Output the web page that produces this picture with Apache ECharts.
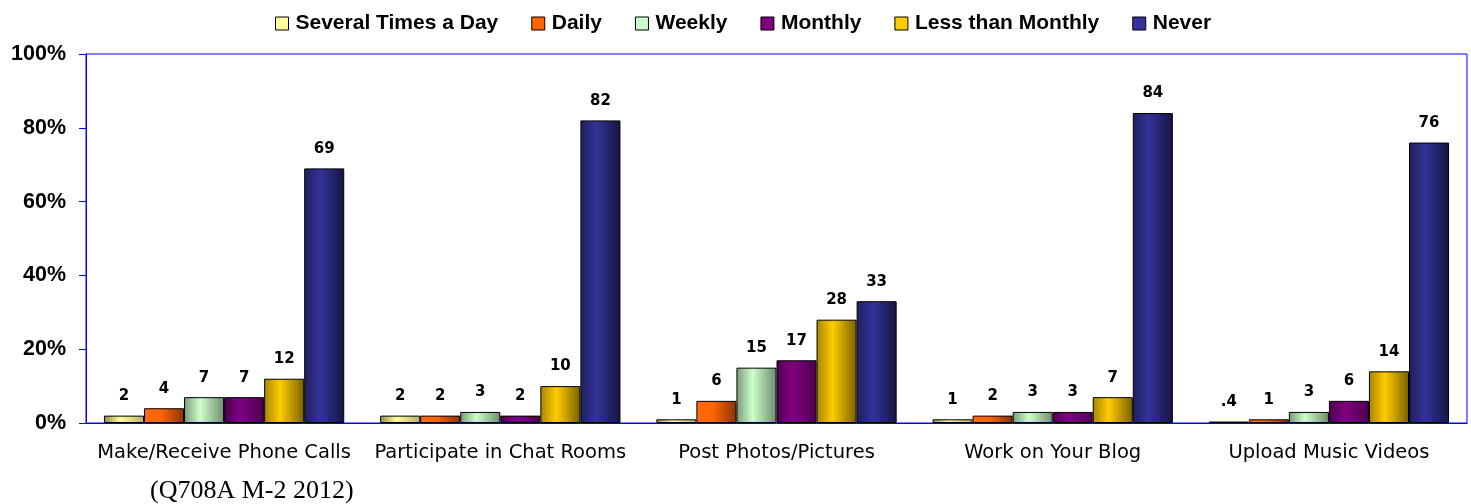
<!DOCTYPE html>
<html><head><meta charset="utf-8">
<script src="https://cdn.jsdelivr.net/npm/echarts@6/dist/echarts.min.js"></script>
<style>html,body{margin:0;padding:0;background:#fff}#c{width:1471px;height:504px}</style>
</head><body><div id="c"></div>
<script>
var categories = ['Make/Receive Phone Calls','Participate in Chat Rooms','Post Photos/Pictures','Work on Your Blog','Upload Music Videos'];
var seriesNames = ['Several Times a Day','Daily','Weekly','Monthly','Less than Monthly','Never'];
var severalTimes = [2, 2, 1, 1, 0.4];
var daily = [4, 2, 6, 2, 1];
var weekly = [7, 3, 15, 3, 3];
var monthly = [7, 2, 17, 3, 6];
var lessThanMonthly = [12, 10, 28, 7, 14];
var never = [69, 82, 33, 84, 76];
var yTicks = [0, 20, 40, 60, 80, 100];
var footnote = '(Q708A M-2 2012)';

var seriesData = [severalTimes, daily, weekly, monthly, lessThanMonthly, never];
var colors = [
  ['#8c8c50','#ffff99','#b3b36b'],
  ['#ff6a10','#ff6600','#8c3300'],
  ['#7a997a','#ccffcc','#6f8c6f'],
  ['#4d004d','#800080','#4d004d'],
  ['#a68500','#ffcc00','#7a6000'],
  ['#1f1f5c','#333399','#151540']
];
var baseColors = ['#ffff99','#ff6600','#ccffcc','#800080','#ffcc00','#333399'];

function grad(c){
  return new echarts.graphic.LinearGradient(0,0,1,0,[
    {offset:0,color:c[0]},{offset:0.4,color:c[1]},{offset:1,color:c[2]}
  ]);
}

var chart = echarts.init(document.getElementById('c'), null, {renderer:'canvas'});
var series = seriesNames.map(function(n,i){
  return {
    name:n, type:'bar', data:seriesData[i],
    barGap:'0%', barCategoryGap:'13%',
    itemStyle:{color:grad(colors[i]), borderColor:'#000', borderWidth:1},
    label:{show:true, position:'top', distance:12,
      fontFamily:'DejaVu Sans', fontWeight:'bold', fontSize:15, color:'#000',
      formatter:function(p){ return p.value < 1 ? String(p.value).replace(/^0/,'') : String(p.value); }}
  };
});
chart.setOption({
  animation:false,
  color: baseColors,
  legend:{
    top:8, left:270, itemWidth:13, itemHeight:13, itemGap:33,
    icon:'rect',
    textStyle:{fontFamily:'Liberation Sans', fontWeight:'bold', fontSize:21, color:'#000', padding:[0,0,0,2]},
    data: seriesNames.map(function(n,i){return {name:n, itemStyle:{color:baseColors[i], borderColor:'#000', borderWidth:1}};})
  },
  grid:{left:86, right:4, top:54, bottom:81, show:true, borderColor:'#0000ff', borderWidth:1},
  xAxis:{
    type:'category', data:categories,
    axisLine:{lineStyle:{color:'#0000ff'}}, axisTick:{show:false},
    axisLabel:{interval:0, hideOverlap:false, fontFamily:'DejaVu Sans', fontSize:19.5, color:'#000', margin:20}
  },
  yAxis:{
    type:'value', min:0, max:100, interval:20,
    axisLine:{show:true, lineStyle:{color:'#0000ff'}},
    axisTick:{show:true, inside:false, length:7, lineStyle:{color:'#0000ff'}},
    splitLine:{show:false},
    axisLabel:{formatter:'{value}%', fontFamily:'Liberation Sans', fontWeight:'bold', fontSize:21.5, color:'#000', margin:20}
  },
  graphic:[{type:'text', left:150, top:478,
    style:{text:footnote, font:'26px "Liberation Serif"', fill:'#000'}}],
  series: series
});
</script></body></html>
